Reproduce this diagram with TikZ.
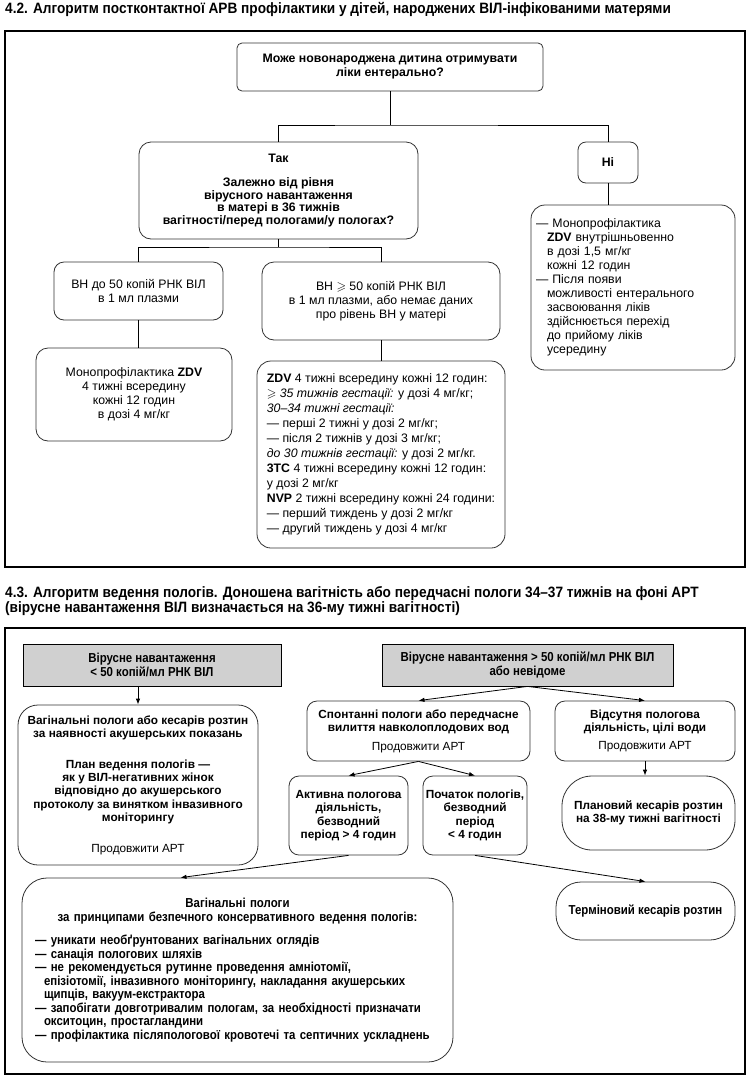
\documentclass[tikz,border=0pt]{standalone}
\usepackage{fontspec}
\usepackage{amssymb}
\setmainfont{Liberation Sans}
\newfontfamily\narrowfont[FakeStretch=0.88]{Liberation Sans}
\newfontfamily\headfont[FakeStretch=0.91]{Liberation Sans}
\usetikzlibrary{arrows.meta}
\definecolor{boxgray}{HTML}{D0D0D0}
\definecolor{linegray}{HTML}{333333}

\begin{document}
\begin{tikzpicture}[x=1pt, y=-1pt,
    frame/.style={draw, line width=1.2pt},
    title/.style={anchor=north west, inner sep=0pt, align=left, font=\headfont\bfseries\fontsize{15}{15.5}\selectfont},
    box/.style={draw=linegray, line width=0.8pt, rounded corners=#1, inner sep=0pt, align=center, font=\fontsize{12.3}{14}\selectfont},
    box/.default=12pt,
    boldtext/.style={font=\bfseries\fontsize{11.8}{13.4}\selectfont},
    narrowtext/.style={font=\narrowfont\bfseries\fontsize{13}{13.5}\selectfont},
    graybox/.style={draw, line width=0.8pt, fill=boxgray, inner sep=0pt, align=center, font=\narrowfont\bfseries\fontsize{13}{14}\selectfont},
    link/.style={draw=black, line width=0.8pt},
    arr/.style={-{Latex[length=6pt,width=4.5pt]}, line width=0.8pt}]

    \path[fill=white] (0,0) rectangle (748,1080);

    % Section 4.2
    \node[title] (t1) at (5,2) {4.2. Алгоритм постконтактної АРВ профілактики у дітей, народжених ВІЛ-інфікованими матерями};
    \draw[frame] (5,31) rectangle (745,567);

    % Draw nodes
    \node[box=5pt, font=\bfseries\fontsize{12.3}{14}\selectfont, minimum width=306pt, minimum height=48pt] (q) at (390,67)
        {Може новонароджена дитина отримувати\\ліки ентерально?};
    \node[box, font=\bfseries\fontsize{12.3}{12.5}\selectfont, minimum width=279pt, minimum height=97pt] (yes) at (278.5,190.5)
        {Так\\[12pt]Залежно від рівня\\вірусного навантаження\\в матері в 36 тижнів\\вагітності/перед пологами/у пологах?};
    \node[box=8pt, font=\bfseries\fontsize{12.3}{14}\selectfont, minimum width=60pt, minimum height=41pt] (no) at (608,162.5) {Ні};
    \node[box=14pt, align=left, text width=194pt, minimum width=204pt, minimum height=165pt] (ivbox) at (633,287.5)
        {— Монопрофілактика\\
         \hspace*{11pt}\textbf{ZDV} внутрішньовенно\\
         \hspace*{11pt}в дозі 1,5 мг/кг\\
         \hspace*{11pt}кожні 12 годин\\
         — Після появи\\
         \hspace*{11pt}можливості ентерального\\
         \hspace*{11pt}засвоювання ліків\\
         \hspace*{11pt}здійснюється перехід\\
         \hspace*{11pt}до прийому ліків\\
         \hspace*{11pt}усередину};
    \node[box=10pt, minimum width=169pt, minimum height=58pt] (low) at (138.5,291)
        {ВН до 50 копій РНК ВІЛ\\в 1 мл плазми};
    \node[box, minimum width=238pt, minimum height=78pt] (high) at (381,301)
        {ВН $\geqslant$ 50 копій РНК ВІЛ\\в 1 мл плазми, або немає даних\\про рівень ВН у матері};
    \node[box, minimum width=196pt, minimum height=93pt] (zdvmono) at (134,394.5)
        {Монопрофілактика \textbf{ZDV}\\4 тижні всередину\\кожні 12 годин\\в дозі 4 мг/кг};
    \node[box=14pt, align=left, font=\fontsize{12.3}{15}\selectfont, minimum width=248pt, minimum height=187pt] (regimen) at (381,454.5)
        {\textbf{ZDV} 4 тижні всередину кожні 12 годин:\\
         $\geqslant$ \textit{35 тижнів гестації:} у дозі 4 мг/кг;\\
         \textit{30–34 тижні гестації:}\\
         — перші 2 тижні у дозі 2 мг/кг;\\
         — після 2 тижнів у дозі 3 мг/кг;\\
         \textit{до 30 тижнів гестації:} у дозі 2 мг/кг.\\
         \textbf{3TC} 4 тижні всередину кожні 12 годин:\\
         у дозі 2 мг/кг\\
         \textbf{NVP} 2 тижні всередину кожні 24 години:\\
         — перший тиждень у дозі 2 мг/кг\\
         — другий тиждень у дозі 4 мг/кг};

    % Draw connections
    \coordinate (j1) at (q.south |- 0,125);
    \draw[link] (q.south) -- (j1);
    \draw[link] (yes.north) |- (j1) -| (no.north);
    \draw[link] (no.south) -- (no.south |- ivbox.north);
    \coordinate (j2) at (yes.south |- 0,247);
    \draw[link] (yes.south) -- (j2);
    \draw[link] (low.north) |- (j2) -| (high.north);
    \draw[link] (low.south) -- (low.south |- zdvmono.north);
    \draw[link] (high.south) -- (high.south |- regimen.north);

    % Section 4.3
    \node[title] (t2) at (5,586) {4.3. Алгоритм ведення пологів. Доношена вагітність або передчасні пологи 34–37 тижнів на фоні АРТ\\(вірусне навантаження ВІЛ визначається на 36-му тижні вагітності)};
    \draw[frame] (5,628) rectangle (745,1074);

    % Draw nodes
    \node[graybox, minimum width=258pt, minimum height=42pt] (grayA) at (152,665)
        {Вірусне навантаження\\< 50 копій/мл РНК ВІЛ};
    \node[graybox, minimum width=291pt, minimum height=42pt] (grayB) at (527.5,665)
        {Вірусне навантаження > 50 копій/мл РНК ВІЛ\\або невідоме};
    \node[box=20pt, boldtext, minimum width=240pt, minimum height=160pt] (boxA) at (138,785)
        {Вагінальні пологи або кесарів розтин\\за наявності акушерських показань\\[17pt]План ведення пологів —\\як у ВІЛ-негативних жінок\\відповідно до акушерського\\протоколу за винятком інвазивного\\моніторингу\\[17pt]{\mdseries Продовжити АРТ}};
    \node[box=10pt, boldtext, minimum width=223pt, minimum height=60pt] (spont) at (418.5,731)
        {Спонтанні пологи або передчасне\\вилиття навколоплодових вод\\[5pt]{\mdseries Продовжити АРТ}};
    \node[box=10pt, boldtext, minimum width=180pt, minimum height=60pt] (absent) at (645,731)
        {Відсутня пологова\\діяльність, цілі води\\[5pt]{\mdseries Продовжити АРТ}};
    \node[box=10pt, boldtext, minimum width=119pt, minimum height=79pt] (act) at (348.5,815.5)
        {Активна пологова\\діяльність,\\безводний\\період > 4 годин};
    \node[box=10pt, boldtext, minimum width=104pt, minimum height=79pt] (start) at (475,815.5)
        {Початок пологів,\\безводний\\період\\< 4 годин};
    \node[box=30pt, boldtext, minimum width=173pt, minimum height=74pt] (planned) at (648.5,813)
        {Плановий кесарів розтин\\на 38-му тижні вагітності};
    \node[box=25pt, narrowtext, align=left, text width=405pt, minimum width=431pt, minimum height=184pt] (vag) at (237.5,970)
        {{\centering Вагінальні пологи\\за принципами безпечного консервативного ведення пологів:\par}
         \vspace{10pt}
         — уникати необґрунтованих вагінальних оглядів\\
         — санація пологових шляхів\\
         — не рекомендується рутинне проведення амніотомії,\\
         \hspace*{9pt}епізіотомії, інвазивного моніторингу, накладання акушерських\\
         \hspace*{9pt}щипців, вакуум-екстрактора\\
         — запобігати довготривалим пологам, за необхідності призначати\\
         \hspace*{9pt}окситоцин, простагландини\\
         — профілактика післяпологової кровотечі та септичних ускладнень};
    \node[box=25pt, narrowtext, minimum width=179pt, minimum height=58pt] (urgent) at (645.5,911)
        {Терміновий кесарів розтин};

    % Draw connections
    \draw[arr] (boxA.north |- grayA.south) -- (boxA.north);
    \draw[arr] (grayB.south) -- (spont.north);
    \draw[arr] (grayB.south) -- (absent.north);
    \draw[arr] (absent.south) -- (absent.south |- planned.north);
    \draw[arr] (spont.south) -- (act.north);
    \draw[arr] (spont.south) -- (start.north);
    \draw[arr] (act.south) -- ([xshift=-57pt]vag.north);
    \draw[arr] (start.south) -- (urgent.north);
\end{tikzpicture}
\end{document}
